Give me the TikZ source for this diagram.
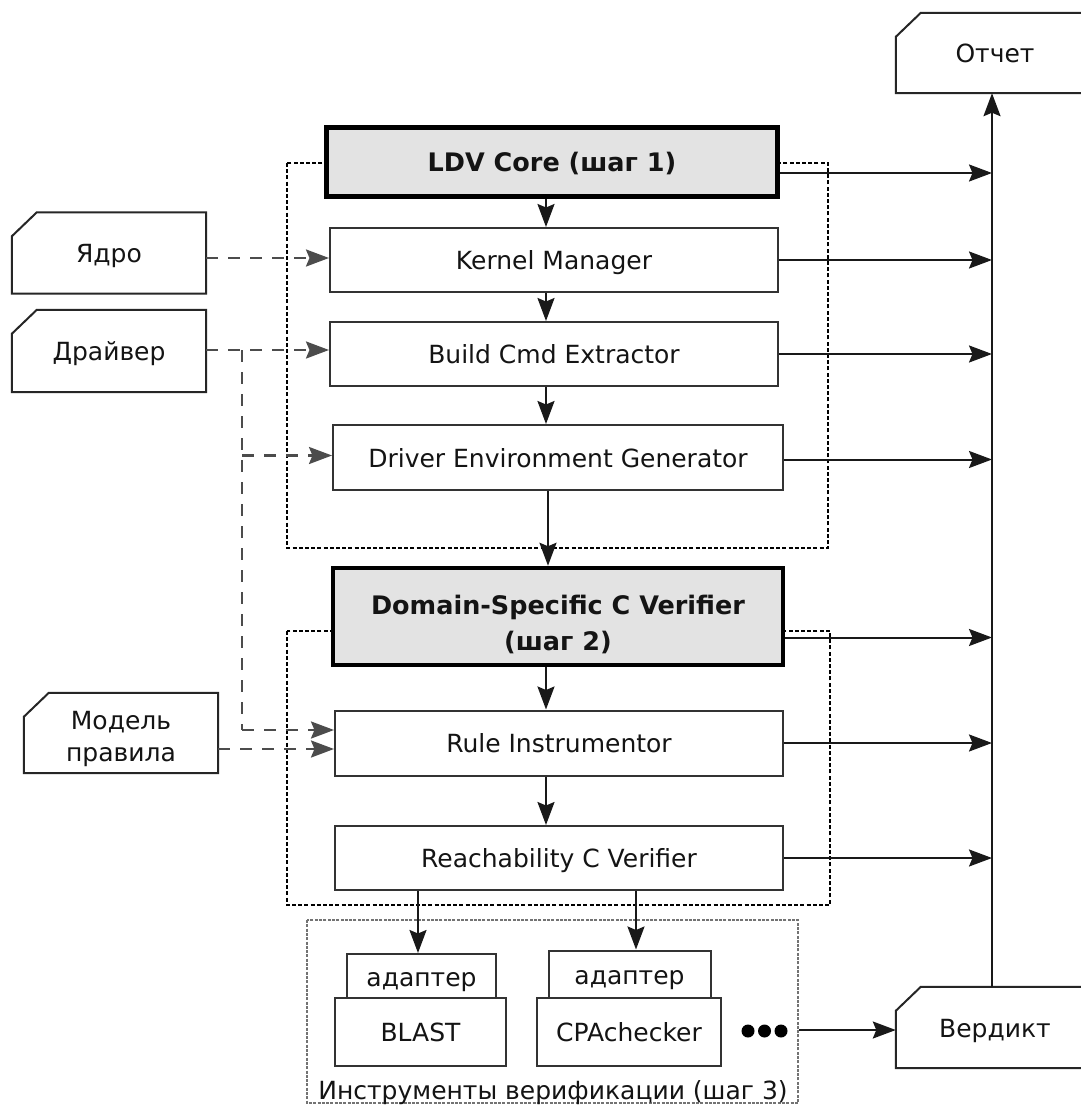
\documentclass[tikz,border=0pt]{standalone}
\usepackage{fontspec}
\setmainfont{DejaVu Sans}
\usetikzlibrary{arrows.meta,calc}

\tikzset{
  txt/.style={text=black!92, font=\fontsize{25}{31}\selectfont},
  one/.style={text height=22pt, text depth=3pt},
  proc/.style={txt, one, draw=black!80, line width=2pt, fill=white, inner sep=0pt},
  core/.style={draw=black, line width=4.5pt, fill=black!11, inner sep=0pt,
    align=center, text=black!92, font=\fontsize{25.5}{36}\selectfont\bfseries},
  inbox/.style={txt, inner sep=0pt, align=center, minimum width=194pt},
  boxline/.style={draw=black!85, line width=2pt},
  grp/.style={draw=black, line width=1.5pt, dash pattern=on 4pt off 2.2pt},
  grpv/.style={draw=black!55, line width=1.5pt, dash pattern=on 3pt off 1.3pt},
  tip/.style={-{Stealth[length=23pt,width=17pt,inset=3.5pt]}},
  arr/.style={draw=black!90, line width=2pt, tip},
  dline/.style={draw=black!70, line width=2.5pt, dash pattern=on 12pt off 10pt},
  darr/.style={dline, tip},
}

% input / output documents: rectangle with a cut top-left corner
\newcommand\chamferbox[1]{%
  \draw[boxline] ([shift={(0,24)}]#1.north west) -- ([shift={(25,0)}]#1.north west)
    -- (#1.north east) -- (#1.south east) -- (#1.south west) -- cycle;}

\begin{document}
\begin{tikzpicture}[x=1pt,y=-1pt]
\useasboundingbox[fill=white] (0,0) rectangle (1081,1108);

% grouping frames
\draw[grp] (287,163) rectangle (828,548);
\draw[grp] (287,631) rectangle (830,905);
\draw[grpv] (307,920) rectangle (798,1103);

% step 1
\node[core, one, minimum width=451pt, minimum height=69pt] (core1) at (552,162) {LDV Core (шаг 1)};
\node[proc, minimum width=448pt, minimum height=64pt] (km) at (554,260) {Kernel Manager};
\node[proc, minimum width=448pt, minimum height=64pt] (bce) at (554,354) {Build Cmd Extractor};
\node[proc, minimum width=450pt, minimum height=65pt] (deg) at (558,457.5) {Driver Environment Generator};

% step 2
\node[core, minimum width=450pt, minimum height=97pt] (core2) at (558,616.5)
  {\rule{0pt}{36pt}Domain-Specific C Verifier\\(шаг 2)};
\node[proc, minimum width=448pt, minimum height=65pt] (ri) at (559,743) {Rule Instrumentor};
\node[proc, minimum width=448pt, minimum height=64pt] (rcv) at (559,858) {Reachability C Verifier};

% step 3: verification tools
\node[proc, minimum width=149pt, minimum height=45pt] (ad1) at (421.5,976.5) {адаптер};
\node[proc, minimum width=171pt, minimum height=68pt] (blast) at (420.5,1032) {BLAST};
\node[proc, minimum width=162pt, minimum height=48pt] (ad2) at (629.5,974.5) {адаптер};
\node[proc, minimum width=184pt, minimum height=68pt] (cpa) at (629,1032) {CPAchecker};
\node[txt, one, anchor=center] (tools) at (553,1090) {Инструменты верификации (шаг 3)};
\foreach \dx in {748,764.5,781} \fill[black] (\dx,1031) circle (6.5pt);
\coordinate (dotsend) at (799,1030);

% inputs
\node[inbox, one, minimum height=81pt] (yadro) at (109,253) {Ядро};
\node[inbox, one, minimum height=82pt] (drv) at (109,351) {Драйвер};
\node[inbox, minimum height=80pt, font=\fontsize{25}{32}\selectfont] (model) at (121,733)
  {\rule{0pt}{31pt}Модель\\правила};
\chamferbox{yadro}
\chamferbox{drv}
\chamferbox{model}

% outputs
\node[inbox, one, minimum width=198pt, minimum height=80pt] (otchet) at (995,53) {Отчет};
\node[inbox, one, minimum width=198pt, minimum height=81pt] (verdikt) at (995,1027.5) {Вердикт};
\chamferbox{otchet}
\chamferbox{verdikt}

% main flow
\draw[arr] (core1.south -| 546,0) -- (km.north -| 546,0);
\draw[arr] (km.south -| 546,0) -- (bce.north -| 546,0);
\draw[arr] (bce.south -| 546,0) -- (deg.north -| 546,0);
\draw[arr] (deg.south -| 548,0) -- (core2.north -| 548,0);
\draw[arr] (core2.south -| 546,0) -- (ri.north -| 546,0);
\draw[arr] (ri.south -| 546,0) -- (rcv.north -| 546,0);
\draw[arr] (rcv.south -| 418,0) -- (ad1.north -| 418,0);
\draw[arr] (rcv.south -| 636,0) -- (ad2.north -| 636,0);

% reports collected on the right
\coordinate (spine) at (992,500);
\draw[arr] (verdikt.north -| spine) -- (otchet.south -| spine);
\draw[arr] ([shift={(0,11)}]core1.east) -- ([shift={(0,11)}]core1.east -| spine);
\draw[arr] (km.east) -- (km.east -| spine);
\draw[arr] (bce.east) -- (bce.east -| spine);
\draw[arr] ([shift={(0,2)}]deg.east) -- ([shift={(0,2)}]deg.east -| spine);
\draw[arr] ([shift={(0,21)}]core2.east) -- ([shift={(0,21)}]core2.east -| spine);
\draw[arr] (ri.east) -- (ri.east -| spine);
\draw[arr] (rcv.east) -- (rcv.east -| spine);
\draw[arr] (dotsend) -- (verdikt.west |- dotsend);

% inputs into the pipeline
\coordinate (branch) at (242,0);
\draw[darr] ([shift={(0,-2)}]km.west -| yadro.east) -- ([shift={(0,-2)}]km.west);
\draw[darr] ([shift={(0,-4)}]bce.west -| drv.east) -- ([shift={(0,-4)}]bce.west);
\draw[dline] ([shift={(0,-4)}]bce.west -| branch) -- ([shift={(0,-13)}]ri.west -| branch);
\draw[darr] ([shift={(0,-13)}]ri.west -| branch) -- ([shift={(0,-13)}]ri.west);
\draw[darr] ([shift={(0,-2)}]deg.west -| branch) -- ([shift={(0,-2)}]deg.west);
\draw[darr] ([shift={(0,6)}]ri.west -| model.east) -- ([shift={(0,6)}]ri.west);
\end{tikzpicture}
\end{document}
